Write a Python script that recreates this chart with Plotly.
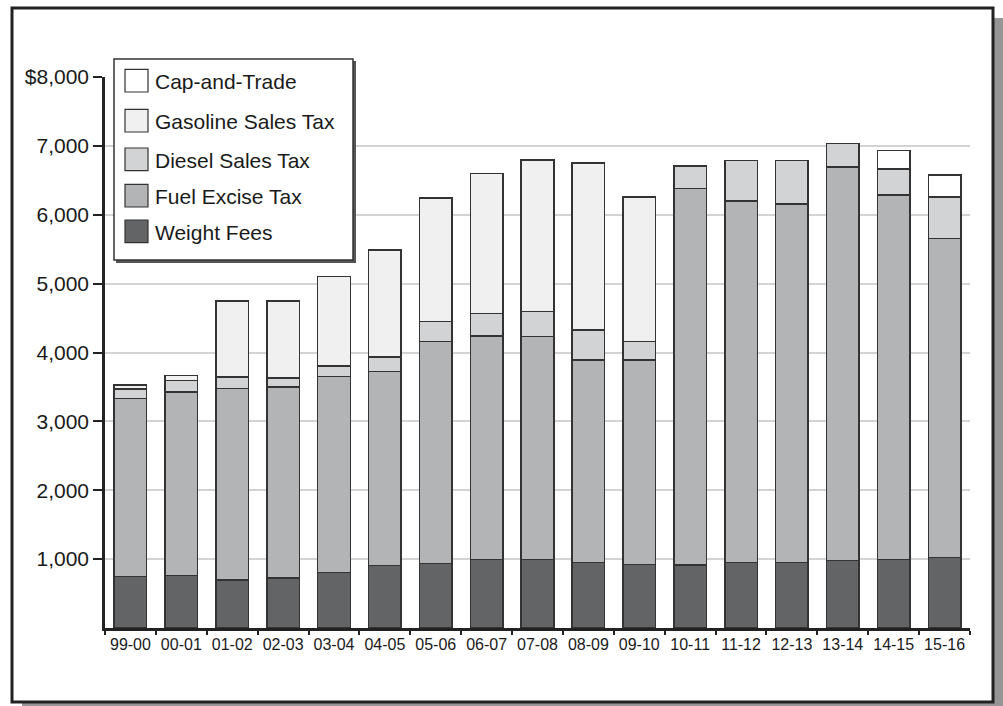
import plotly.graph_objects as go

categories = ["99-00", "00-01", "01-02", "02-03", "03-04", "04-05", "05-06", "06-07",
              "07-08", "08-09", "09-10", "10-11", "11-12", "12-13", "13-14", "14-15", "15-16"]

weight_fees = [749, 759, 696, 725, 807, 904, 940, 996, 996, 948, 923, 913, 948, 948, 977, 996, 1025]
fuel_excise = [2584, 2667, 2782, 2773, 2841, 2821, 3217, 3246, 3236, 2946, 2971, 5467, 5255, 5207, 5714, 5294, 4627]
diesel_sales = [137, 168, 165, 135, 155, 213, 292, 326, 362, 435, 265, 328, 585, 633, 344, 372, 609]
gasoline_sales = [57, 73, 1106, 1116, 1304, 1550, 1797, 2032, 2203, 2420, 2098, None, None, None, None, None, None]
cap_and_trade = [None] * 15 + [271, 314]

series_names = ["Weight Fees", "Fuel Excise Tax", "Diesel Sales Tax", "Gasoline Sales Tax", "Cap-and-Trade"]
series_values = [weight_fees, fuel_excise, diesel_sales, gasoline_sales, cap_and_trade]
series_colors = ["#636466", "#b3b4b6", "#d2d3d5", "#f0f0f0", "#ffffff"]

y_tickvals = [1000, 2000, 3000, 4000, 5000, 6000, 7000, 8000]
y_ticktext = ["1,000", "2,000", "3,000", "4,000", "5,000", "6,000", "7,000", "$8,000"]

FONT = "Liberation Sans, Arial, Helvetica, sans-serif"
W, H = 1003, 706
ML, MR, MT, MB = 105, 33, 77, 78
PW, PH = W - ML - MR, H - MT - MB


def px(x):
    return (x - ML) / PW


def py(y):
    return (H - MB - y) / PH


fig = go.Figure()
for name, vals, col in zip(series_names, series_values, series_colors):
    fig.add_trace(go.Bar(
        x=categories, y=vals, name=name,
        marker=dict(color=col, line=dict(color="#333333", width=1.5)),
        showlegend=False,
    ))

shapes = []
# outer frame shadow and frame
shapes.append(dict(type="rect", xref="paper", yref="paper", layer="below",
                   x0=px(22), x1=px(1012), y0=py(18), y1=py(716),
                   fillcolor="#959595", line=dict(width=0)))
shapes.append(dict(type="rect", xref="paper", yref="paper", layer="below",
                   x0=px(12), x1=px(993), y0=py(8), y1=py(702),
                   fillcolor="#ffffff", line=dict(color="#222222", width=3)))
# legend shadow & box
shapes.append(dict(type="rect", xref="paper", yref="paper", layer="above",
                   x0=px(116), x1=px(356), y0=py(61), y1=py(263),
                   fillcolor="#555555", line=dict(width=0)))
shapes.append(dict(type="rect", xref="paper", yref="paper", layer="above",
                   x0=px(114), x1=px(353), y0=py(59), y1=py(260),
                   fillcolor="#ffffff", line=dict(color="#333333", width=1.5)))

row_centers = [80.7, 120.7, 159.3, 195.7, 231.3]
annotations = []
for i, idx in enumerate(reversed(range(len(series_names)))):
    cy = row_centers[i]
    shapes.append(dict(type="rect", xref="paper", yref="paper", layer="above",
                       x0=px(125), x1=px(148), y0=py(cy - 11.3), y1=py(cy + 11.3),
                       fillcolor=series_colors[idx], line=dict(color="#333333", width=1.2)))
    annotations.append(dict(xref="paper", yref="paper", x=px(153), y=py(cy + 1),
                            xanchor="left", yanchor="middle", showarrow=False,
                            text=series_names[idx],
                            font=dict(family=FONT, size=21, color="#1a1a1a")))

fig.update_layout(
    width=W, height=H,
    margin=dict(l=ML, r=MR, t=MT, b=MB, pad=0),
    barmode="stack", bargap=0.36,
    paper_bgcolor="#ffffff", plot_bgcolor="rgba(0,0,0,0)",
    font=dict(family=FONT, color="#1a1a1a"),
    shapes=shapes, annotations=annotations,
    showlegend=False,
)
fig.update_xaxes(
    type="category", showline=True, linecolor="#222222", linewidth=2.5,
    ticks="outside", tickson="boundaries", ticklen=4, tickwidth=2, tickcolor="#222222",
    tickangle=0,
    tickfont=dict(family=FONT, size=16, color="#1a1a1a"), showgrid=False,
)
fig.update_yaxes(
    range=[0, 8000], tickvals=y_tickvals, ticktext=y_ticktext,
    showline=True, linecolor="#222222", linewidth=2.5,
    ticks="outside", ticklen=9, tickwidth=2, tickcolor="#222222",
    tickfont=dict(family=FONT, size=21, color="#1a1a1a"),
    showgrid=True, gridcolor="#d3d3d3", gridwidth=1.5, zeroline=False,
)

fig.write_html("out.html", config={"displayModeBar": False},
               post_script="document.body.style.margin='0';document.body.style.overflow='hidden';")
